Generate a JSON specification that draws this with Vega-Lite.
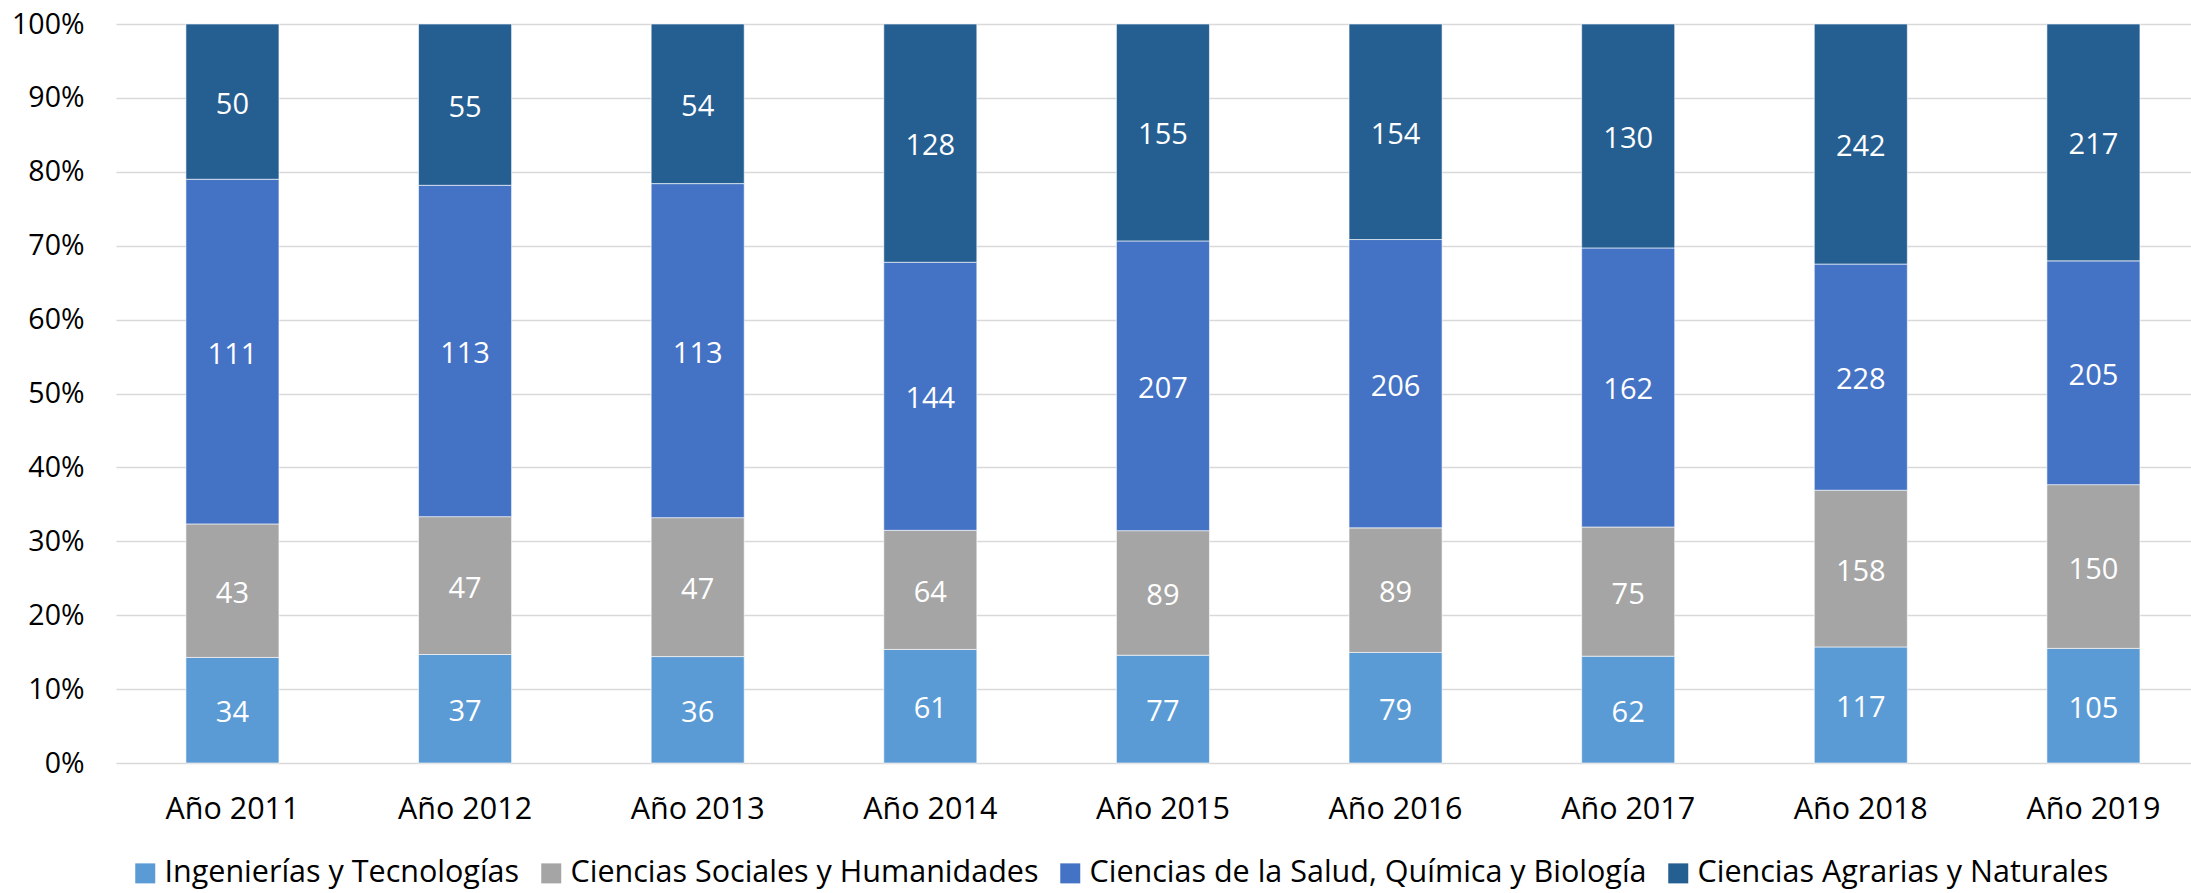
{
  "$schema": "https://vega.github.io/schema/vega-lite/v6.json",
  "width": 2075,
  "height": 739,
  "autosize": {"type": "none"},
  "padding": {"left": 116, "top": 24, "right": 0, "bottom": 130},
  "background": "#ffffff",
  "config": {
    "font": "Open Sans",
    "view": {"stroke": null}
  },
  "data": {
    "values": [
      {"anio": "Año 2011", "area": "Ingenierías y Tecnologías", "orden": 1, "n": 34},
      {"anio": "Año 2011", "area": "Ciencias Sociales y Humanidades", "orden": 2, "n": 43},
      {"anio": "Año 2011", "area": "Ciencias de la Salud, Química y Biología", "orden": 3, "n": 111},
      {"anio": "Año 2011", "area": "Ciencias Agrarias y Naturales", "orden": 4, "n": 50},
      {"anio": "Año 2012", "area": "Ingenierías y Tecnologías", "orden": 1, "n": 37},
      {"anio": "Año 2012", "area": "Ciencias Sociales y Humanidades", "orden": 2, "n": 47},
      {"anio": "Año 2012", "area": "Ciencias de la Salud, Química y Biología", "orden": 3, "n": 113},
      {"anio": "Año 2012", "area": "Ciencias Agrarias y Naturales", "orden": 4, "n": 55},
      {"anio": "Año 2013", "area": "Ingenierías y Tecnologías", "orden": 1, "n": 36},
      {"anio": "Año 2013", "area": "Ciencias Sociales y Humanidades", "orden": 2, "n": 47},
      {"anio": "Año 2013", "area": "Ciencias de la Salud, Química y Biología", "orden": 3, "n": 113},
      {"anio": "Año 2013", "area": "Ciencias Agrarias y Naturales", "orden": 4, "n": 54},
      {"anio": "Año 2014", "area": "Ingenierías y Tecnologías", "orden": 1, "n": 61},
      {"anio": "Año 2014", "area": "Ciencias Sociales y Humanidades", "orden": 2, "n": 64},
      {"anio": "Año 2014", "area": "Ciencias de la Salud, Química y Biología", "orden": 3, "n": 144},
      {"anio": "Año 2014", "area": "Ciencias Agrarias y Naturales", "orden": 4, "n": 128},
      {"anio": "Año 2015", "area": "Ingenierías y Tecnologías", "orden": 1, "n": 77},
      {"anio": "Año 2015", "area": "Ciencias Sociales y Humanidades", "orden": 2, "n": 89},
      {"anio": "Año 2015", "area": "Ciencias de la Salud, Química y Biología", "orden": 3, "n": 207},
      {"anio": "Año 2015", "area": "Ciencias Agrarias y Naturales", "orden": 4, "n": 155},
      {"anio": "Año 2016", "area": "Ingenierías y Tecnologías", "orden": 1, "n": 79},
      {"anio": "Año 2016", "area": "Ciencias Sociales y Humanidades", "orden": 2, "n": 89},
      {"anio": "Año 2016", "area": "Ciencias de la Salud, Química y Biología", "orden": 3, "n": 206},
      {"anio": "Año 2016", "area": "Ciencias Agrarias y Naturales", "orden": 4, "n": 154},
      {"anio": "Año 2017", "area": "Ingenierías y Tecnologías", "orden": 1, "n": 62},
      {"anio": "Año 2017", "area": "Ciencias Sociales y Humanidades", "orden": 2, "n": 75},
      {"anio": "Año 2017", "area": "Ciencias de la Salud, Química y Biología", "orden": 3, "n": 162},
      {"anio": "Año 2017", "area": "Ciencias Agrarias y Naturales", "orden": 4, "n": 130},
      {"anio": "Año 2018", "area": "Ingenierías y Tecnologías", "orden": 1, "n": 117},
      {"anio": "Año 2018", "area": "Ciencias Sociales y Humanidades", "orden": 2, "n": 158},
      {"anio": "Año 2018", "area": "Ciencias de la Salud, Química y Biología", "orden": 3, "n": 228},
      {"anio": "Año 2018", "area": "Ciencias Agrarias y Naturales", "orden": 4, "n": 242},
      {"anio": "Año 2019", "area": "Ingenierías y Tecnologías", "orden": 1, "n": 105},
      {"anio": "Año 2019", "area": "Ciencias Sociales y Humanidades", "orden": 2, "n": 150},
      {"anio": "Año 2019", "area": "Ciencias de la Salud, Química y Biología", "orden": 3, "n": 205},
      {"anio": "Año 2019", "area": "Ciencias Agrarias y Naturales", "orden": 4, "n": 217}
    ]
  },
  "transform": [
    {"stack": "n", "groupby": ["anio"], "sort": [{"field": "orden", "order": "ascending"}], "offset": "normalize", "as": ["y0", "y1"]}
  ],
  "encoding": {
    "x": {
      "field": "anio",
      "type": "nominal",
      "sort": null,
      "scale": {"paddingInner": 0.6, "paddingOuter": 0.26, "align": 0.578},
      "axis": {
        "title": null,
        "labelAngle": 0,
        "labelFontSize": 30.5,
        "labelColor": "#000000",
        "labelPadding": 31,
        "ticks": false,
        "domain": false,
        "grid": false
      }
    }
  },
  "layer": [
    {
      "mark": {"type": "bar", "stroke": "#ffffff", "strokeWidth": 1, "strokeOpacity": 0.6},
      "encoding": {
        "y": {
          "field": "y0",
          "type": "quantitative",
          "scale": {"domain": [0, 1], "nice": false, "zero": true},
          "axis": {
            "title": null,
            "format": ".0%",
            "values": [0, 0.1, 0.2, 0.3, 0.4, 0.5, 0.6, 0.7, 0.8, 0.9, 1],
            "labelFontSize": 28.5,
            "labelColor": "#000000",
            "labelPadding": 32,
            "ticks": false,
            "domain": false,
            "grid": true,
            "gridColor": "#D9D9D9",
            "gridWidth": 1.5
          }
        },
        "y2": {"field": "y1"},
        "color": {
          "field": "area",
          "type": "nominal",
          "scale": {
            "domain": ["Ingenierías y Tecnologías", "Ciencias Sociales y Humanidades", "Ciencias de la Salud, Química y Biología", "Ciencias Agrarias y Naturales"],
            "range": ["#5B9BD5", "#A5A5A5", "#4472C4", "#255E91"]
          },
          "legend": {
            "title": null,
            "orient": "none",
            "direction": "horizontal",
            "legendX": 14,
            "legendY": 834,
            "symbolType": "square",
            "symbolSize": 400,
            "symbolStrokeWidth": 0,
            "labelFontSize": 30.5,
            "labelColor": "#000000",
            "labelOffset": 4,
            "columnPadding": 16,
            "labelLimit": 1000
          }
        }
      }
    },
    {
      "transform": [
        {"fold": ["y0", "y1"], "as": ["extremo", "pos"]}
      ],
      "mark": {"type": "text", "color": "#ffffff", "fontSize": 29, "baseline": "middle", "align": "center", "dy": 3},
      "encoding": {
        "y": {"field": "pos", "type": "quantitative", "aggregate": "mean"},
        "detail": {"field": "area", "type": "nominal"},
        "text": {"field": "n", "type": "quantitative"}
      }
    }
  ]
}
